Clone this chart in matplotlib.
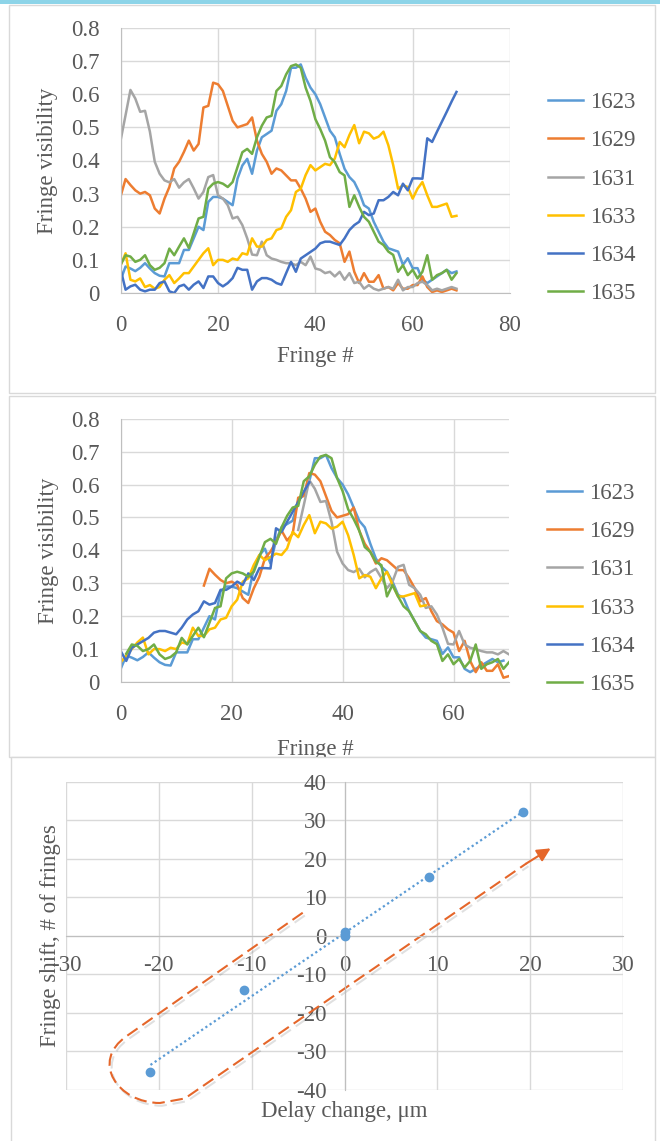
import numpy as np
import matplotlib.pyplot as plt
from matplotlib.patches import Rectangle, PathPatch
from matplotlib.path import Path
from matplotlib.ticker import FuncFormatter
import matplotlib.patheffects as pe

plt.rcParams['font.family'] = ['Liberation Serif', 'DejaVu Serif']
plt.rcParams['axes.unicode_minus'] = False

# ---- fringe visibility data (panel 1, raw) ----
fringe = np.arange(70)
names = ['1623', '1629', '1631', '1633', '1634', '1635']
colors = ['#5B9BD5', '#ED7D31', '#A5A5A5', '#FFC000', '#4472C4', '#70AD47']

v1623 = [0.04, 0.08, 0.074, 0.066, 0.076, 0.09, 0.074, 0.06, 0.052, 0.05,
         0.09, 0.09, 0.09, 0.13, 0.13, 0.165, 0.2, 0.19, 0.275, 0.29,
         0.29, 0.285, 0.275, 0.265, 0.345, 0.385, 0.405, 0.36, 0.43, 0.47,
         0.48, 0.49, 0.55, 0.57, 0.61, 0.68, 0.68, 0.69, 0.65, 0.62,
         0.6, 0.57, 0.53, 0.49, 0.47, 0.42, 0.375, 0.35, 0.335, 0.305,
         0.265, 0.255, 0.215, 0.185, 0.155, 0.135, 0.13, 0.125, 0.085, 0.105,
         0.075, 0.075, 0.04, 0.03, 0.04, 0.05, 0.06, 0.07, 0.06, 0.065]
v1629 = [0.293, 0.344, 0.326, 0.31, 0.3, 0.305, 0.295, 0.255, 0.24, 0.285,
         0.32, 0.376, 0.396, 0.426, 0.46, 0.43, 0.45, 0.56, 0.565, 0.635,
         0.63, 0.61, 0.565, 0.52, 0.5, 0.505, 0.51, 0.53, 0.46, 0.42,
         0.396, 0.36, 0.376, 0.37, 0.355, 0.34, 0.34, 0.315, 0.285, 0.245,
         0.255, 0.215, 0.185, 0.175, 0.16, 0.15, 0.094, 0.125, 0.064, 0.03,
         0.06, 0.034, 0.034, 0.054, 0.013, 0.018, 0.008, 0.03, 0.013, 0.013,
         0.024, 0.024, 0.05, 0.018, 0.003, 0.008, 0.003, 0.008, 0.013, 0.008]
v1631 = [0.462, 0.537, 0.613, 0.587, 0.547, 0.55, 0.487, 0.396, 0.36, 0.34,
         0.334, 0.344, 0.318, 0.334, 0.344, 0.316, 0.285, 0.305, 0.35, 0.356,
         0.295, 0.285, 0.265, 0.225, 0.23, 0.205, 0.165, 0.116, 0.114, 0.155,
         0.114, 0.104, 0.1, 0.094, 0.09, 0.09, 0.084, 0.094, 0.084, 0.11,
         0.074, 0.07, 0.06, 0.064, 0.05, 0.064, 0.04, 0.06, 0.03, 0.034,
         0.013, 0.024, 0.013, 0.008, 0.013, 0.018, 0.013, 0.04, 0.008, 0.018,
         0.018, 0.03, 0.034, 0.024, 0.008, 0.013, 0.008, 0.013, 0.018, 0.013]
v1633 = [0.084, 0.12, 0.04, 0.035, 0.044, 0.018, 0.024, 0.013, 0.018, 0.04,
         0.054, 0.03, 0.044, 0.06, 0.06, 0.08, 0.1, 0.12, 0.135, 0.084,
         0.1, 0.1, 0.094, 0.104, 0.1, 0.12, 0.116, 0.165, 0.14, 0.14,
         0.16, 0.165, 0.19, 0.195, 0.23, 0.25, 0.305, 0.315, 0.356, 0.386,
         0.37, 0.38, 0.39, 0.386, 0.406, 0.456, 0.44, 0.477, 0.507, 0.452,
         0.487, 0.482, 0.466, 0.472, 0.487, 0.446, 0.386, 0.315, 0.325, 0.32,
         0.285, 0.315, 0.335, 0.295, 0.26, 0.26, 0.265, 0.27, 0.23, 0.233]
v1634 = [0.07, 0.01, 0.02, 0.025, 0.01, 0.005, 0.01, 0.01, 0.03, 0.035,
         0.005, 0.0, 0.02, 0.025, 0.01, 0.025, 0.035, 0.015, 0.05, 0.05,
         0.03, 0.02, 0.03, 0.045, 0.076, 0.07, 0.07, 0.01, 0.035, 0.045,
         0.045, 0.04, 0.03, 0.025, 0.06, 0.094, 0.064, 0.104, 0.114, 0.124,
         0.134, 0.15, 0.155, 0.155, 0.15, 0.145, 0.165, 0.19, 0.205, 0.215,
         0.245, 0.235, 0.24, 0.28, 0.28, 0.29, 0.305, 0.295, 0.33, 0.31,
         0.346, 0.346, 0.345, 0.467, 0.456, 0.487, 0.517, 0.547, 0.578, 0.607]
v1635 = [0.086, 0.114, 0.11, 0.094, 0.1, 0.114, 0.084, 0.07, 0.076, 0.09,
         0.134, 0.114, 0.14, 0.165, 0.136, 0.18, 0.225, 0.23, 0.315, 0.33,
         0.335, 0.33, 0.32, 0.335, 0.38, 0.425, 0.435, 0.42, 0.47, 0.505,
         0.53, 0.535, 0.61, 0.625, 0.66, 0.685, 0.69, 0.68, 0.62, 0.58,
         0.525, 0.495, 0.46, 0.41, 0.395, 0.365, 0.355, 0.26, 0.295, 0.26,
         0.23, 0.215, 0.185, 0.155, 0.145, 0.125, 0.115, 0.064, 0.084, 0.054,
         0.07, 0.044, 0.064, 0.114, 0.04, 0.054, 0.06, 0.07, 0.04, 0.06]
visibility = [v1623, v1629, v1631, v1633, v1634, v1635]

# fringe offsets used to align the peaks in panel 2
shifts = [0, 15, 32, -14, -35, 1]

# ---- delay scan (panel 3) ----
delay = [-20.9, -10.8, 0.0, 0.0, 9.1, 19.25]
shift_fr = [-35.3, -14.1, 1.0, 0.0, 15.2, 32.1]

TXT = '#595959'
GRID = '#D9D9D9'
AXC = '#BFBFBF'
FS = 16.5

W, H = 660, 1141
fig = plt.figure(figsize=(W / 100, H / 100), dpi=100)


def px_axes(l, t, r, b):
    return fig.add_axes([l / W, 1 - b / H, (r - l) / W, (b - t) / H])


def frame(l, t, r, b, z):
    fig.add_artist(Rectangle((l / W, 1 - b / H), (r - l) / W, (b - t) / H,
                             transform=fig.transFigure, facecolor='white',
                             edgecolor=GRID, lw=1, zorder=z))


fig.add_artist(Rectangle((0, 1 - 4 / H), 1, 4 / H, transform=fig.transFigure,
                         color='#8DD4E8', lw=0, zorder=-5))
frame(9, 5, 655, 393, -4)
frame(9, 396, 655, 757, -4)
frame(11, 757, 655, 1145, 1)


def style_vis(ax, xmax, xticks):
    ax.set_xlim(0, xmax)
    ax.set_ylim(0, 0.8)
    ax.set_xticks(xticks)
    ax.set_yticks(np.arange(0, 0.81, 0.1))
    ax.yaxis.set_major_formatter(FuncFormatter(lambda v, _: f'{round(v, 1):g}'))
    ax.grid(color=GRID, lw=1)
    ax.set_axisbelow(True)
    ax.patch.set_alpha(0)
    for s in ['top', 'right']:
        ax.spines[s].set_visible(False)
    for s in ['left', 'bottom']:
        ax.spines[s].set_color(AXC)
    ax.tick_params(length=0, labelsize=FS, labelcolor=TXT)
    ax.tick_params(axis='x', pad=16)
    ax.tick_params(axis='y', pad=15)
    ax.set_ylabel('Fringe visibility', fontsize=FS, color=TXT)
    ax.set_xlabel('Fringe #', fontsize=FS, color=TXT)


leg_kw = dict(loc='center left', frameon=False, fontsize=FS, labelcolor=TXT,
              handlelength=1.53, handletextpad=0.3, labelspacing=0.75,
              borderaxespad=0, borderpad=0)

# panel 1
ax1 = px_axes(120.7, 28, 510, 293)
for n, v, c in zip(names, visibility, colors):
    ax1.plot(fringe, v, color=c, lw=1.8, label=n)
style_vis(ax1, 80, [0, 20, 40, 60, 80])
ax1.xaxis.set_label_coords(0.5, -0.2415)
ax1.xaxis.label.set_va('center')
ax1.yaxis.set_label_coords(-0.187, 0.5)
ax1.yaxis.label.set_va('center')
ax1.legend(bbox_to_anchor=(1.098, 0.358), **leg_kw)

# panel 2
ax2 = px_axes(120.7, 418.7, 509, 682)
for n, v, c, s in zip(names, visibility, colors, shifts):
    x = fringe + s
    m = (x >= 0) & (x <= 70)
    ax2.plot(x[m], np.array(v)[m], color=c, lw=1.8, label=n)
style_vis(ax2, 70, [0, 20, 40, 60])
ax2.xaxis.set_label_coords(0.5, -0.257)
ax2.xaxis.label.set_va('center')
ax2.yaxis.set_label_coords(-0.187, 0.5)
ax2.yaxis.label.set_va('center')
ax2.legend(bbox_to_anchor=(1.098, 0.353), **leg_kw)

# panel 3
ax3 = px_axes(66, 781.7, 623, 1090)
ax3.set_zorder(2)
ax3.patch.set_alpha(0)
ax3.set_xlim(-30, 30)
ax3.set_ylim(-40, 40)
ax3.set_xticks(np.arange(-30, 31, 10))
ax3.set_yticks(np.arange(-40, 41, 10))
ax3.grid(color=GRID, lw=1)
ax3.set_axisbelow(True)
for s in ['top', 'right']:
    ax3.spines[s].set_visible(False)
for s in ['left', 'bottom']:
    ax3.spines[s].set_position(('data', 0))
    ax3.spines[s].set_color(AXC)
ax3.tick_params(length=0, labelsize=FS, labelcolor=TXT)
ax3.tick_params(axis='x', pad=14)
ax3.tick_params(axis='y', pad=13)

k, b0 = np.polyfit(delay, shift_fr, 1)
xt = np.array([min(delay), max(delay)])
ax3.plot(xt, k * xt + b0, color='#5B9BD5', lw=1.6, ls=(0, (1, 1.3)))
ax3.scatter(delay, shift_fr, s=36, color='#5B9BD5', zorder=3)

# hand-drawn loop arrow round the points
orange = '#E5662A'
verts = [(-4.5, 6.0), (-23.46, -26.0),
         (-27.44, -32.65), (-24.4, -43.37), (-19.88, -43.37),
         (-17.2, -42.2), (19.6, 18.8)]
codes = [Path.MOVETO, Path.LINETO,
         Path.CURVE4, Path.CURVE4, Path.CURVE4,
         Path.LINETO, Path.LINETO]
loop = PathPatch(Path(verts, codes), fill=False, edgecolor=orange, lw=1.5,
                 ls=(0, (6, 2.8)), clip_on=False,
                 path_effects=[pe.SimpleLineShadow(offset=(1.5, -2), alpha=0.12),
                               pe.Normal()])
ax3.add_patch(loop)
ax3.annotate('', xy=(22.2, 22.7), xytext=(19.6, 18.8),
             arrowprops=dict(arrowstyle='-|>', color=orange, lw=1.5,
                             mutation_scale=20, shrinkA=0, shrinkB=0),
             annotation_clip=False)

ax3.set_ylabel('Fringe shift, # of fringes', fontsize=FS, color=TXT)
ax3.set_xlabel('Delay change, \u03bcm', fontsize=FS, color=TXT)
ax3.yaxis.set_label_coords(-0.0287, 0.5)
ax3.yaxis.label.set_va('center')
ax3.xaxis.set_label_coords(0.5, -0.071)
ax3.xaxis.label.set_va('center')

fig.savefig('out.png', dpi=100)
